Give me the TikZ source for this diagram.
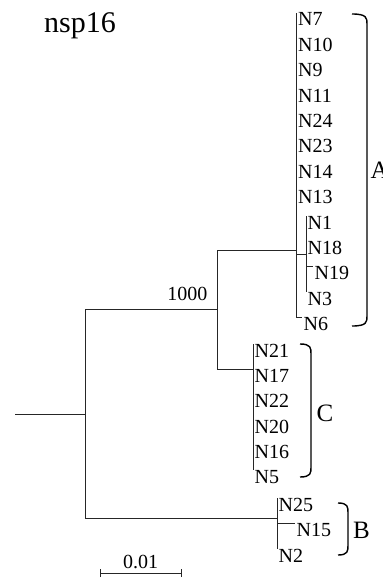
\documentclass[tikz,border=0pt]{standalone}
\usepackage{fontspec}
\setmainfont{Liberation Serif}
\begin{document}
\begin{tikzpicture}[x=1pt,y=-1pt,
  br/.style={line width=0.9pt,black!85},
  leaf/.style={anchor=north west,inner sep=0pt,font=\fontsize{20}{22}\selectfont},
  grp/.style={line width=1.4pt,black},
  grplab/.style={anchor=west,inner sep=0pt,font=\fontsize{25}{28}\selectfont}]
\useasboundingbox (0,0) rectangle (383,584);
% title
\node[anchor=base west,inner sep=0pt,font=\fontsize{30}{33}\selectfont] (title) at (44,32) {nsp16};
% internal nodes
\coordinate (r0) at (15,414);
\coordinate (nR) at (85,414);
\coordinate (nAC) at (217,309);
\coordinate (nA) at (296.5,250);
\coordinate (nS) at (306,254);
\coordinate (nC) at (253,369);
\coordinate (nB) at (277,518);
% leaves A
\coordinate (lN7) at (296.5,12.5);
\coordinate (lN10) at (296.5,37.9);
\coordinate (lN9) at (296.5,63.3);
\coordinate (lN11) at (296.5,88.7);
\coordinate (lN24) at (296.5,114.1);
\coordinate (lN23) at (296.5,139.5);
\coordinate (lN14) at (296.5,164.9);
\coordinate (lN13) at (296.5,190.3);
\coordinate (lN1) at (306,215.7);
\coordinate (lN18) at (306,241.1);
\coordinate (lN19) at (313,266.5);
\coordinate (lN3) at (306,291.9);
\coordinate (lN6) at (302,317.3);
% leaves C
\coordinate (lN21) at (253,344);
\coordinate (lN17) at (253,369.2);
\coordinate (lN22) at (253,394.4);
\coordinate (lN20) at (253,419.6);
\coordinate (lN16) at (253,444.8);
\coordinate (lN5) at (253,470);
% leaves B
\coordinate (lN25) at (277,498);
\coordinate (lN15) at (295,523.5);
\coordinate (lN2) at (277,549);
% branches
\draw[br] (r0) -- (nR);
\draw[br] (nR) |- (nAC);
\draw[br] (nR) |- (nB);
\draw[br] (nAC) |- (nA);
\draw[br] (nAC) |- (nC);
\foreach \l in {N7,N10,N9,N11,N24,N23,N14,N13,N6}{\draw[br] (nA) |- (l\l);}
\draw[br] (nA) |- (nS);
\foreach \l in {N1,N18,N19,N3}{\draw[br] (nS) |- (l\l);}
\foreach \l in {N21,N17,N22,N20,N16,N5}{\draw[br] (nC) |- (l\l);}
\foreach \l in {N25,N15,N2}{\draw[br] (nB) |- (l\l);}
% leaf labels
\foreach \l in {N7,N10,N9,N11,N24,N23,N14,N13,N1,N18,N19,N3,N6,N21,N17,N22,N20,N16,N5,N25,N15,N2}{
  \node[leaf] (t\l) at ([xshift=1.5pt]l\l) {\l};}
% bootstrap
\node[anchor=base east,inner sep=0pt,font=\fontsize{20}{22}\selectfont] (boot) at (207.5,300.5) {1000};
% brackets
\coordinate (aT) at (352,14); \coordinate (aB) at (352,326);
\draw[grp] (aT) .. controls (367,14) and (367,18) .. (367,24) -- (367,316) .. controls (367,322) and (367,326) .. (aB);
\node[grplab] (labA) at (370.5,170) {A};
\coordinate (cT) at (300,344); \coordinate (cB) at (300,477);
\draw[grp] (cT) .. controls (311,344) and (311,348) .. (311,354) -- (311,467) .. controls (311,473) and (311,477) .. (cB);
\node[grplab] (labC) at (316.5,413) {C};
\coordinate (bT) at (338,503); \coordinate (bB) at (338,555);
\draw[grp] (bT) .. controls (348,503) and (348,507) .. (348,513) -- (348,545) .. controls (348,551) and (348,555) .. (bB);
\node[grplab] (labB) at (353,530) {B};
% scale bar
\coordinate (s1) at (100,573); \coordinate (s2) at (181,573);
\draw[br] (s1) -- (s2);
\draw[br] ([yshift=-4pt]s1) -- ([yshift=4pt]s1);
\draw[br] ([yshift=-4pt]s2) -- ([yshift=4pt]s2);
\node[anchor=base,inner sep=0pt,font=\fontsize{20}{22}\selectfont] (sl) at (140.5,568) {0.01};
\end{tikzpicture}
\end{document}
